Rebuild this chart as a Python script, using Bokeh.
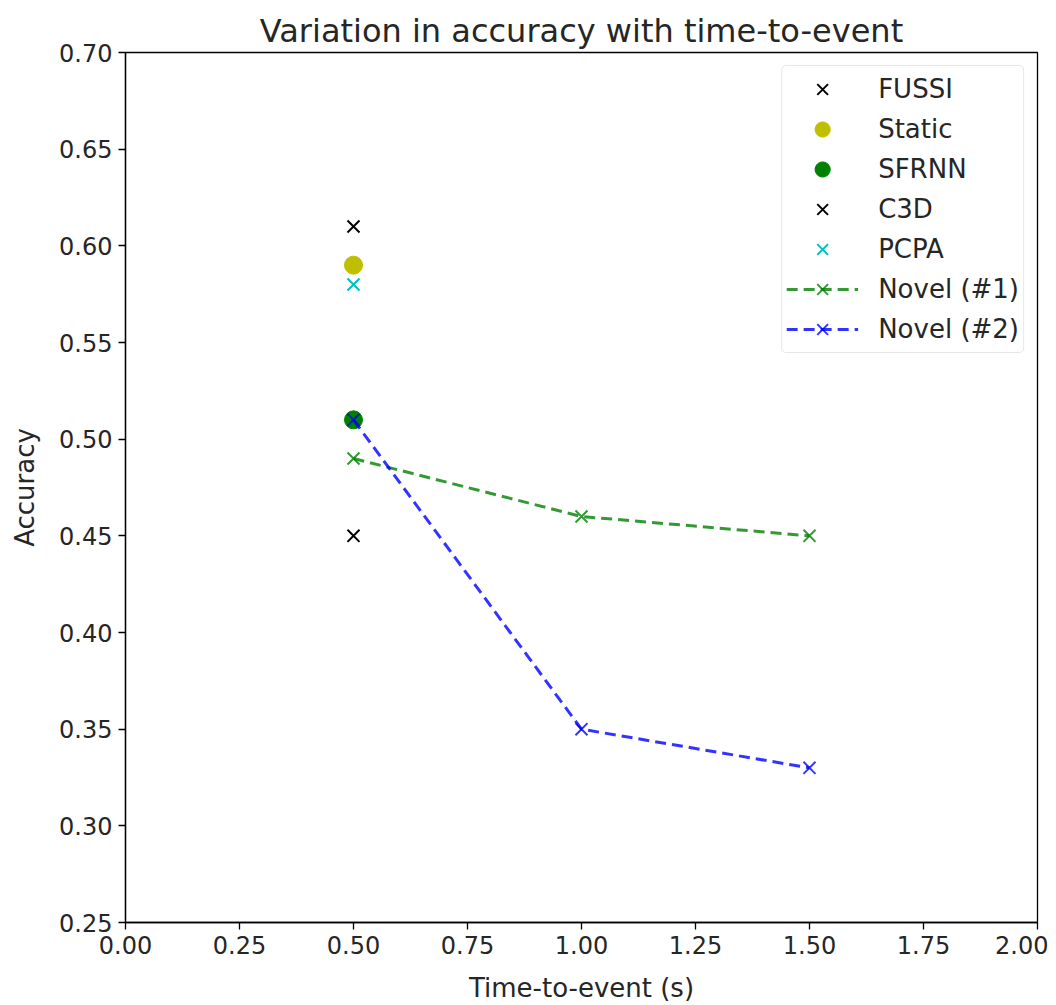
from bokeh.plotting import figure
from bokeh.models import Range1d, FixedTicker, PrintfTickFormatter, Legend, LegendItem
from bokeh.embed import file_html
from bokeh.resources import INLINE

# Data
fussi_x = [0.5]
fussi_y = [0.61]
static_x = [0.5]
static_y = [0.59]
sfrnn_x = [0.5]
sfrnn_y = [0.51]
c3d_x = [0.5]
c3d_y = [0.45]
pcpa_x = [0.5]
pcpa_y = [0.58]
novel1_x = [0.5, 1.0, 1.5]
novel1_y = [0.49, 0.46, 0.45]
novel2_x = [0.5, 1.0, 1.5]
novel2_y = [0.51, 0.35, 0.33]

x_ticks = [0.0, 0.25, 0.5, 0.75, 1.0, 1.25, 1.5, 1.75, 2.0]
y_ticks = [0.25, 0.30, 0.35, 0.40, 0.45, 0.50, 0.55, 0.60, 0.65, 0.70]

FONT = "DejaVu Sans"
TXT = "#262626"

p = figure(width=1048, height=1005, output_backend="svg", toolbar_location=None,
           x_range=Range1d(0, 2), y_range=Range1d(0.25, 0.70),
           title="Variation in accuracy with time-to-event",
           min_border_left=125, min_border_right=11, min_border_top=52, min_border_bottom=83)
p.title.align = "center"
p.title.text_font = FONT
p.title.text_font_size = "32px"
p.title.text_font_style = "normal"
p.title.text_color = TXT
p.title.offset = 0
p.title.standoff = 5

p.xgrid.visible = False
p.ygrid.visible = False
p.outline_line_color = "black"
p.outline_line_width = 1.3

for ax in (p.xaxis, p.yaxis):
    ax.major_tick_out = 7
    ax.major_tick_in = 0
    ax.minor_tick_line_color = None
    ax.major_label_text_font = FONT
    ax.major_label_text_font_size = "24px"
    ax.major_label_text_color = TXT
    ax.major_label_standoff = 6
    ax.axis_label_text_font = FONT
    ax.axis_label_text_font_size = "26px"
    ax.axis_label_text_font_style = "normal"
    ax.axis_label_text_color = TXT
    ax.axis_line_color = "black"
    ax.axis_line_width = 1.3
    ax.major_tick_line_color = "black"
    ax.major_tick_line_width = 1.3

p.xaxis.axis_label_standoff = 16
p.yaxis.axis_label_standoff = 16

p.xaxis.ticker = FixedTicker(ticks=x_ticks)
p.yaxis.ticker = FixedTicker(ticks=y_ticks)
p.xaxis.formatter = PrintfTickFormatter(format="%.2f")
p.yaxis.formatter = PrintfTickFormatter(format="%.2f")
p.xaxis.axis_label = "Time-to-event (s)"
p.yaxis.axis_label = "Accuracy"

XS = 17
CS = 18
r_fussi = p.scatter(fussi_x, fussi_y, marker="x", size=XS, line_color="black", line_width=2)
r_static = p.scatter(static_x, static_y, marker="circle", size=CS, fill_color="#bfbf00", line_color="#bfbf00")
r_sfrnn = p.scatter(sfrnn_x, sfrnn_y, marker="circle", size=CS, fill_color="#008000", line_color="#008000")
r_c3d = p.scatter(c3d_x, c3d_y, marker="x", size=XS, line_color="black", line_width=2)
r_pcpa = p.scatter(pcpa_x, pcpa_y, marker="x", size=XS, line_color="#00bfbf", line_width=2)

g_col = "#008000"
b_col = "#0000ff"
l1 = p.line(novel1_x, novel1_y, line_color=g_col, line_alpha=0.8, line_width=3, line_dash="11 6")
m1 = p.scatter(novel1_x, novel1_y, marker="x", size=XS, line_color=g_col, line_alpha=0.8, line_width=2)
l2 = p.line(novel2_x, novel2_y, line_color=b_col, line_alpha=0.8, line_width=3, line_dash="11 6")
m2 = p.scatter(novel2_x, novel2_y, marker="x", size=XS, line_color=b_col, line_alpha=0.8, line_width=2)

legend = Legend(items=[
    LegendItem(label="FUSSI", renderers=[r_fussi]),
    LegendItem(label="Static", renderers=[r_static]),
    LegendItem(label="SFRNN", renderers=[r_sfrnn]),
    LegendItem(label="C3D", renderers=[r_c3d]),
    LegendItem(label="PCPA", renderers=[r_pcpa]),
    LegendItem(label="Novel (#1)", renderers=[l1, m1]),
    LegendItem(label="Novel (#2)", renderers=[l2, m2]),
], location="top_right")
legend.label_text_font = FONT
legend.label_text_font_size = "26px"
legend.label_text_color = TXT
legend.border_line_color = "#d0d0d0"
legend.border_line_width = 1.3
legend.border_radius = 5
legend.margin = 13
legend.padding = 4
legend.spacing = 2
legend.glyph_height = 38
legend.glyph_width = 72
legend.label_standoff = 20
legend.label_height = 38
p.add_layout(legend)

open("out.html", "w").write(file_html(p, INLINE))
